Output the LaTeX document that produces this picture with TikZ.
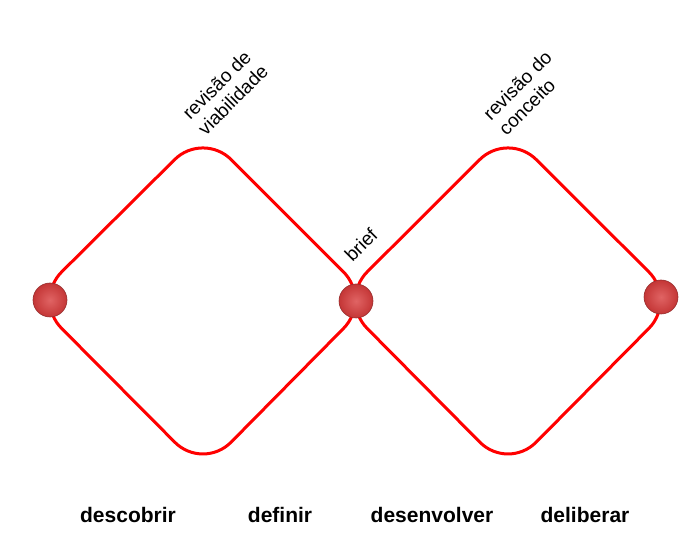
\documentclass[tikz,border=0pt]{standalone}
\usepackage{fontspec}
\setmainfont{Liberation Sans}
\usepackage{tikz}
\usetikzlibrary{positioning}
\definecolor{loopred}{RGB}{255,0,0}
\definecolor{ballhi}{RGB}{224,100,100}
\definecolor{ballred}{RGB}{196,54,54}
\definecolor{ballrim}{RGB}{150,45,45}
\tikzset{
  loop/.style={draw=loopred, line width=3pt, rounded corners=40pt},
  gate/.style={circle, draw=ballrim, line width=0.6pt, shading=radial,
    inner color=ballhi, outer color=ballred,
    minimum size=34pt, inner sep=0pt},
  review/.style={rotate=45, align=left, inner sep=0pt,
    font=\fontsize{19}{22}\selectfont},
  phase/.style={anchor=base, font=\fontsize{21}{24}\selectfont\bfseries}
}

\begin{document}
\begin{tikzpicture}[x=1pt, y=-1pt]
  \useasboundingbox (0,0) rectangle (688,534);

  % corners of the two diamonds
  \coordinate (dw) at (33.4,300);
  \coordinate (dn) at (203,131.4);
  \coordinate (de) at (371.6,300);
  \coordinate (ds) at (203,470.6);
  \coordinate (vw) at (339,300);
  \coordinate (vn) at (508,131.4);
  \coordinate (ve) at (677,300);
  \coordinate (vs) at (508,470.6);

  % Diamonds
  \draw[loop] (dw) -- (dn) -- (de) -- (ds) -- cycle;
  \draw[loop] (vw) -- (vn) -- (ve) -- (vs) -- cycle;

  % Gates
  \node[gate] (start) at (50,300) {};
  \node[gate] (brief) at (356,301) {};
  \node[gate] (finish) at (661,297) {};

  % Reviews
  \node[review] (viab) at (225,92) {revisão de\\viabilidade};
  \node[review] (conc) at (525,93) {revisão do\\conceito};
  \node[review] (brieflbl) at (361,245) {brief};

  % Phases
  \node[phase] (disc) at (128,522) {descobrir};
  \node[phase] (defi) at (280,522) {definir};
  \node[phase] (deve) at (432,522) {desenvolver};
  \node[phase] (deli) at (585,522) {deliberar};
\end{tikzpicture}
\end{document}
